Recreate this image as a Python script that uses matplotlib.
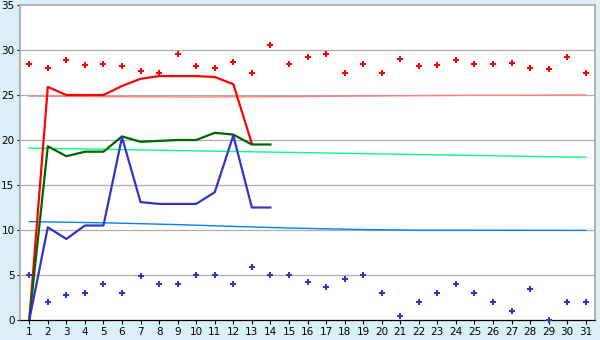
import matplotlib
matplotlib.use("Agg")
import matplotlib.pyplot as plt

days = list(range(1, 32))

red_points = [28.5, 28.0, 28.85, 28.3, 28.4, 28.2, 27.7, 27.5, 29.6, 28.2,
              28.0, 28.7, 27.5, 30.6, 28.4, 29.2, 29.6, 27.5, 28.4, 27.5,
              29.0, 28.2, 28.3, 28.85, 28.5, 28.5, 28.6, 28.0, 27.85, 29.2, 27.5]
blue_points = [5.0, 2.0, 2.75, 3.0, 4.0, 3.0, 4.85, 4.0, 4.0, 5.0,
               5.0, 4.0, 5.85, 5.0, 5.0, 4.2, 3.63, 4.52, 5.0, 3.0,
               0.5, 2.0, 3.0, 4.0, 3.0, 2.0, 1.0, 3.5, 0.0, 2.0, 2.0]

line_days = list(range(1, 15))
red_line = [0, 25.9, 25.0, 25.0, 25.0, 26.0, 26.8, 27.1, 27.1, 27.1, 27.0, 26.2, 19.6]
green_line = [0, 19.3, 18.2, 18.7, 18.7, 20.4, 19.8, 19.9, 20.0, 20.0, 20.8, 20.6, 19.5, 19.5]
blue_line = [0, 10.3, 9.0, 10.5, 10.5, 20.3, 13.1, 12.9, 12.9, 12.9, 14.2, 20.5, 12.5, 12.5]

pink_trend_x = [1, 5, 10, 15, 20, 25, 31]
pink_trend = [24.88, 24.82, 24.78, 24.82, 24.9, 24.97, 25.0]
green_trend_x = [1, 31]
green_trend = [19.1, 18.08]
blue_trend_x = [1, 5, 9, 12, 15, 19, 22, 31]
blue_trend = [10.93, 10.8, 10.6, 10.4, 10.22, 10.05, 9.98, 9.96]

y_ticks = [0, 5, 10, 15, 20, 25, 30, 35]

bg = "#DAEFF6"
fig = plt.figure(figsize=(6, 3.4), dpi=100, facecolor=bg)
ax = fig.add_axes([20/600, 20/340, 575/600, 315/340])
ax.set_facecolor("white")

ax.set_xlim(0.5, 31.5)
ax.set_ylim(0, 35)
ax.set_yticks(y_ticks)
ax.set_xticks(days)
ax.tick_params(axis="both", labelsize=7.5, colors="black", length=3, width=0.8, pad=2)
ax.tick_params(axis="y", length=2)

for y in y_ticks[1:-1]:
    ax.axhline(y, color="#AEAEAE", lw=0.9, zorder=1)

for s in ["top", "right", "left"]:
    ax.spines[s].set_color("#A8A8A8")
    ax.spines[s].set_linewidth(1.2)
ax.spines["bottom"].set_color("black")
ax.spines["bottom"].set_linewidth(0.9)

ax.plot(pink_trend_x, pink_trend, color="#FF8080", lw=1.0, zorder=2)
ax.plot(green_trend_x, green_trend, color="#00FF80", lw=1.0, zorder=2)
ax.plot(blue_trend_x, blue_trend, color="#0080FF", lw=1.0, zorder=2)

ax.plot(line_days[:len(red_line)], red_line, color="#FF0000", lw=1.6, zorder=3)
ax.plot(line_days, green_line, color="#006400", lw=1.6, zorder=3)
ax.plot(line_days, blue_line, color="#3333CC", lw=1.6, zorder=3)

ax.plot(days, red_points, linestyle="none", marker="P", markersize=4.5,
        color="#FF0000", markeredgewidth=0, zorder=4, clip_on=False)
ax.plot(days, blue_points, linestyle="none", marker="P", markersize=4.5,
        color="#3333CC", markeredgewidth=0, zorder=4, clip_on=False)

fig.savefig("out.png", dpi=100, facecolor=bg)
